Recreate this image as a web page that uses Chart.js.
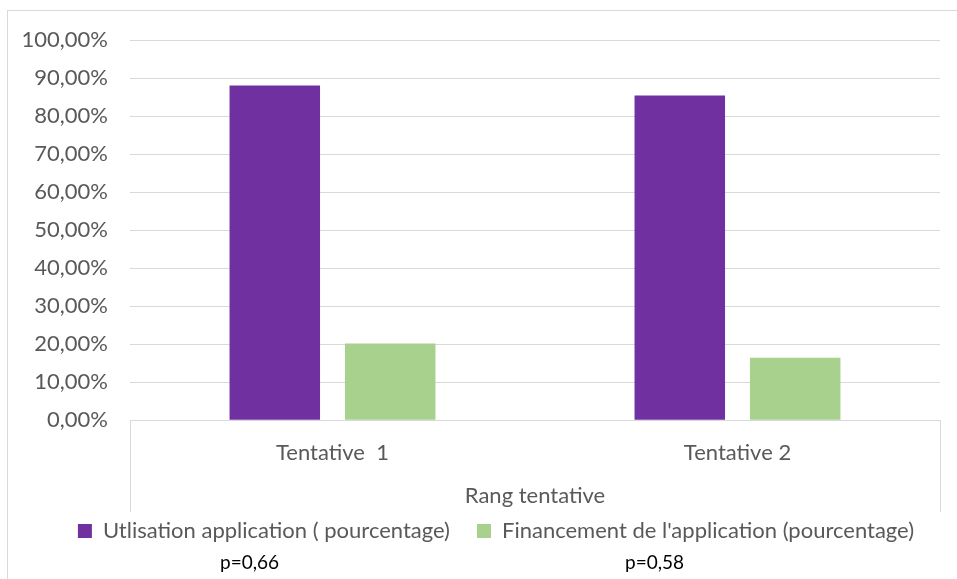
<!DOCTYPE html>
<html>
<head>
<meta charset="utf-8">
<script src="https://cdn.jsdelivr.net/npm/chart.js@4"></script>
<style>
  html, body { margin: 0; padding: 0; background: #fff; overflow: hidden; }
  #frame { position: absolute; left: 7px; top: 10px; width: 1000px; height: 700px;
           border: 1px solid #d9d9d9; box-sizing: border-box; }
  #chart { position: absolute; left: 0; top: 0; }
</style>
</head>
<body>
<div id="frame"></div>
<canvas id="chart" width="957" height="579"></canvas>
<script>
'use strict';

// ── Data ───────────────────────────────────────────────────────
const CATEGORIES = ['Tentative  1', 'Tentative 2'];
const USAGE      = [88.0, 85.4];   // Utlisation application (%)
const FUNDING    = [20.2, 16.4];   // Financement de l'application (%)
const P_VALUES   = ['p=0,66', 'p=0,58'];
const Y_MIN = 0, Y_MAX = 100, Y_STEP = 10;

// ── Style ──────────────────────────────────────────────────────
const FONT   = 'Lato, sans-serif';
const TEXT   = '#595959';
const LINE   = '#d9d9d9';
const PURPLE = '#7030a0';
const GREEN  = '#a9d18e';
const LEGEND_SHIFT = 16;

const pct = v => v.toFixed(2).replace('.', ',') + '%';

// separators under the category axis + p-value notes
const extras = {
  id: 'extras',
  afterLayout(chart) {
    // legend sits a little right of the canvas centre in the original
    chart.legend.left  += LEGEND_SHIFT;
    chart.legend.right += LEGEND_SHIFT;
  },
  afterDraw(chart) {
    const { ctx, chartArea, scales: { x } } = chart;
    ctx.save();
    ctx.strokeStyle = LINE;
    ctx.lineWidth = 1;
    [chartArea.left, chartArea.right].forEach(px => {
      const xx = Math.round(px) + 0.5;
      ctx.beginPath();
      ctx.moveTo(xx, chartArea.bottom);
      ctx.lineTo(xx, chartArea.bottom + 92);
      ctx.stroke();
    });
    ctx.fillStyle = '#000';
    ctx.font = `19px ${FONT}`;
    ctx.textAlign = 'center';
    ctx.textBaseline = 'middle';
    P_VALUES.forEach((t, i) => ctx.fillText(t, x.getPixelForValue(i) - 83, 563));
    ctx.restore();
  },
};

new Chart(document.getElementById('chart'), {
  type: 'bar',
  data: {
    labels: CATEGORIES,
    datasets: [
      { label: 'Utlisation application ( pourcentage)', data: USAGE,
        backgroundColor: PURPLE, borderWidth: 0 },
      { label: "Financement de l'application (pourcentage)", data: FUNDING,
        backgroundColor: GREEN, borderWidth: 0 },
    ],
  },
  options: {
    responsive: false,
    animation: false,
    categoryPercentage: 0.57,
    barPercentage: 0.784,
    layout: { padding: { left: 20, right: 17, top: 40, bottom: 27 } },
    plugins: {
      tooltip: { enabled: false },
      legend: {
        position: 'bottom',
        labels: {
          color: TEXT,
          font: { family: FONT, size: 22 },
          boxWidth: 14, boxHeight: 14,
          padding: 27,
        },
      },
    },
    scales: {
      x: {
        grid: { display: false },
        border: { color: LINE },
        ticks: { color: TEXT, font: { family: FONT, size: 22 }, padding: 12 },
        title: {
          display: true, text: 'Rang tentative', color: TEXT,
          font: { family: FONT, size: 22 }, padding: { top: 4, bottom: -16 },
        },
      },
      y: {
        min: Y_MIN, max: Y_MAX,
        afterFit: s => { s.width = 110; },
        grid: { color: LINE, drawTicks: false },
        border: { display: false },
        ticks: { stepSize: Y_STEP, color: TEXT, font: { family: FONT, size: 22 },
                 padding: 22, callback: v => pct(v) },
      },
    },
  },
  plugins: [extras],
});
</script>
</body>
</html>
